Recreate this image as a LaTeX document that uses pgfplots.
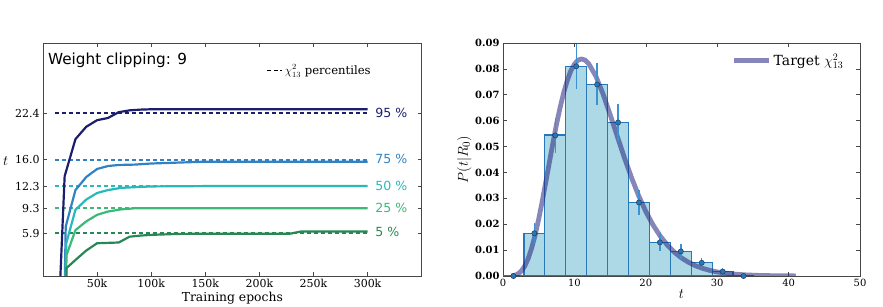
\documentclass[border=0pt]{standalone}
\usepackage{pgfplots}
\pgfplotsset{compat=1.18}
\usepackage{fontspec}
\setmainfont{DejaVu Serif}
\newfontfamily\dvs{DejaVu Sans}
\definecolor{c95}{RGB}{27,30,110}
\definecolor{c75}{RGB}{50,130,195}
\definecolor{c50}{RGB}{40,185,185}
\definecolor{c25}{RGB}{60,185,120}
\definecolor{c05}{RGB}{40,135,85}
\definecolor{barfill}{RGB}{173,216,230}
\definecolor{baredge}{RGB}{40,120,185}
\definecolor{errc}{RGB}{60,145,210}
\definecolor{mfill}{RGB}{40,120,180}
\definecolor{medge}{RGB}{25,60,100}
\definecolor{chic}{RGB}{35,35,125}
\definecolor{spine}{RGB}{70,70,70}
\begin{document}
\begin{tikzpicture}
\useasboundingbox (0,0) rectangle (883bp,307bp);
\pgfplotsset{
  every axis/.append style={
    scale only axis, anchor=south west,
    tick align=inside, xtick pos=both, ytick pos=both,
    major tick length=4bp,
    axis line style={spine, line width=0.8pt},
    every tick/.style={spine, line width=0.6pt},
    /pgf/number format/assume math mode=true,
    tick label style={font=\fontsize{11}{12}\selectfont},
    label style={font=\fontsize{12.4}{14}\selectfont},
  },
  pdash/.style={dash pattern=on 4.5bp off 2.5bp, line width=1.8pt},
}
% ---------------- left panel ----------------
\begin{axis}[
  at={(43bp,31bp)}, width=378.7bp, height=233bp,
  xmin=0, xmax=350, ymin=0, ymax=32,
  xtick={50,100,150,200,250,300},
  xticklabels={50k,100k,150k,200k,250k,300k},
  ytick={5.89,9.30,12.34,15.98,22.36},
  yticklabels={5.9,9.3,12.3,16.0,22.4},
  xlabel={Training epochs},
  xlabel style={yshift=3bp},
  ylabel={$t$},
  ylabel style={rotate=-90, yshift=-2bp, font=\fontsize{15}{16}\selectfont},
  legend style={draw=none, fill=none, at={(0.879,0.925)}, anchor=north east,
    font=\fontsize{11.7}{13}\selectfont},
  legend image code/.code={\draw[#1] (0bp,0bp) -- (15bp,0bp);},
]
\addlegendimage{black, dash pattern=on 4bp off 2.5bp, line width=1pt}
\addlegendentry{$\chi^2_{13}$ percentiles}
% dashed percentile lines
\addplot[c95, pdash, forget plot] coordinates {(11,22.36) (300,22.36)};
\addplot[c75, pdash, forget plot] coordinates {(11,15.98) (300,15.98)};
\addplot[c50, pdash, forget plot] coordinates {(11,12.34) (300,12.34)};
\addplot[c25, pdash, forget plot] coordinates {(11,9.30) (300,9.30)};
\addplot[c05, pdash, forget plot] coordinates {(11,5.89) (300,5.89)};
% curves
\addplot[c95, line width=2.2pt, forget plot] coordinates {
 (15.5,-2) (20,13.7) (30,18.8) (40,20.5) (50,21.4) (60,21.7) (70,22.5) (80,22.75) (90,22.85) (100,22.9) (150,22.9) (200,22.9) (250,22.9) (300,22.9)};
\addplot[c75, line width=2.2pt, forget plot] coordinates {
 (20,-2) (21,6.8) (30,11.8) (40,13.6) (50,14.7) (60,15.1) (70,15.25) (85,15.3) (100,15.45) (130,15.6) (150,15.7) (200,15.7) (250,15.7) (300,15.7)};
\addplot[c50, line width=2.2pt, forget plot] coordinates {
 (20.5,-2) (21.5,4.5) (30,9.1) (40,10.5) (50,11.4) (60,11.8) (72,12.1) (85,12.2) (100,12.3) (150,12.35) (200,12.35) (250,12.35) (300,12.35)};
\addplot[c25, line width=2.2pt, forget plot] coordinates {
 (21,-2) (21.8,2.9) (30,6.3) (40,7.5) (50,8.4) (60,8.85) (72,9.15) (85,9.3) (100,9.3) (150,9.3) (200,9.3) (250,9.3) (300,9.3)};
\addplot[c05, line width=2.2pt, forget plot] coordinates {
 (21.5,-2) (21.8,1.1) (30,2.2) (40,3.5) (50,4.5) (60,4.55) (70,4.6) (80,5.4) (90,5.55) (100,5.65) (125,5.78) (150,5.8) (200,5.8) (228,5.8) (238,6.1) (300,6.1)};
% labels
\node[anchor=west, text=c95, font=\dvs\fontsize{12.6}{14}\selectfont] at (axis cs:304,22.45) {95 \%};
\node[anchor=west, text=c75, font=\dvs\fontsize{12.6}{14}\selectfont] at (axis cs:304,16.05) {75 \%};
\node[anchor=west, text=c50, font=\dvs\fontsize{12.6}{14}\selectfont] at (axis cs:304,12.4) {50 \%};
\node[anchor=west, text=c25, font=\dvs\fontsize{12.6}{14}\selectfont] at (axis cs:304,9.3) {25 \%};
\node[anchor=west, text=c05, font=\dvs\fontsize{12.6}{14}\selectfont] at (axis cs:304,6.0) {5 \%};
\node[anchor=west, inner sep=0pt, font=\dvs\fontsize{15.3}{17}\selectfont] at (axis description cs:0.013,0.927) {Weight clipping: 9};
\end{axis}
% ---------------- right panel ----------------
\begin{axis}[
  at={(503bp,31bp)}, width=357bp, height=233bp,
  xmin=0, xmax=50, ymin=0, ymax=0.09,
  xtick={0,10,20,30,40,50},
  ytick={0,0.01,0.02,0.03,0.04,0.05,0.06,0.07,0.08,0.09},
  scaled y ticks=false,
  xticklabel style={font=\fontsize{10}{11}\selectfont},
  yticklabel style={font=\bfseries\fontsize{10}{11}\selectfont, /pgf/number format/fixed, /pgf/number format/fixed zerofill, /pgf/number format/precision=2},
  xlabel={$t$},
  xlabel style={yshift=4bp, font=\fontsize{15}{16}\selectfont},
  ylabel={$P(t|R_0)$},
  ylabel style={yshift=-3bp, font=\fontsize{15}{16}\selectfont},
  legend style={draw=none, fill=none, at={(0.968,0.972)}, anchor=north east,
    font=\fontsize{14}{16}\selectfont},
  legend image code/.code={\draw[#1] (0bp,0bp) -- (35bp,0bp);},
]
\addplot[ybar interval, fill=barfill, draw=baredge, line width=1.3pt, forget plot] coordinates {
 (0,0) (2.93,0.0165) (5.86,0.0545) (8.79,0.0810) (11.72,0.0740) (14.65,0.0594)
 (17.58,0.0284) (20.51,0.0130) (23.44,0.0095) (26.37,0.0052) (29.30,0.0017) (32.23,0) (35.16,0)};
\addplot[chic, opacity=0.55, line width=4.8pt] coordinates {
 (1.2,0.000057) (1.5,0.000169) (2,0.000639) (2.5,0.0017) (3,0.0036) (3.5,0.00655) (4,0.01064)
 (4.5,0.0158) (5,0.0220) (5.5,0.02895) (6,0.0364) (6.5,0.0440) (7,0.0515) (7.5,0.0587)
 (8,0.0651) (8.5,0.0708) (9,0.0755) (9.5,0.0793) (10,0.0818) (10.5,0.0834) (11,0.0838)
 (11.5,0.0834) (12,0.0820) (13,0.0772) (14,0.0704) (15,0.0624) (16,0.0540) (17,0.0457)
 (18,0.0380) (19,0.0310) (20,0.0249) (21,0.01978) (22,0.0155) (23,0.0120) (24,0.0092)
 (25,0.00698) (26,0.00526) (27,0.00392) (28,0.00291) (29,0.00214) (30,0.00156) (32,0.00082)
 (34,0.00042) (36,0.00021) (38,0.000105) (41,0.0000356)};
\addlegendentry{Target $\chi^2_{13}$}
\addplot[forget plot, only marks, mark=*, mark size=2.6bp, mark options={fill=mfill, draw=medge, line width=0.5pt},
  error bars/.cd, y dir=both, y explicit,
  error bar style={color=errc, line width=1.4pt}, error mark=none] coordinates {
 (1.465,0) +- (0,0)
 (4.395,0.0165) +- (0,0.0038)
 (7.325,0.0543) +- (0,0.0068)
 (10.255,0.0810) +- (0,0.0086)
 (13.185,0.0740) +- (0,0.0081)
 (16.115,0.0593) +- (0,0.0072)
 (19.045,0.0284) +- (0,0.0050)
 (21.975,0.0130) +- (0,0.0035)
 (24.905,0.0095) +- (0,0.0029)
 (27.835,0.0051) +- (0,0.0020)
 (30.765,0.0017) +- (0,0.0012)
 (33.695,0) +- (0,0)};
\end{axis}
\end{tikzpicture}
\end{document}
